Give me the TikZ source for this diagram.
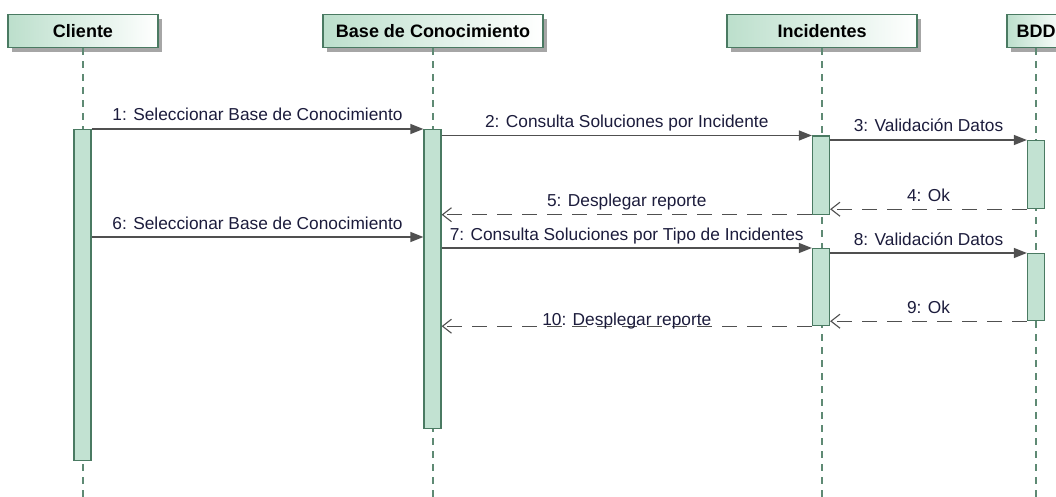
\documentclass[tikz,border=0pt]{standalone}
\usepackage{fontspec}
\setmainfont{Liberation Sans}
\usetikzlibrary{arrows.meta,positioning,shadows}
\definecolor{boxgreen}{HTML}{BCDFCC}
\definecolor{actfill}{HTML}{C2E2D2}
\definecolor{actline}{HTML}{4A7A62}
\definecolor{lifeline}{HTML}{5F8A74}
\definecolor{msgline}{HTML}{505050}
\definecolor{msgtext}{HTML}{1C1C3C}
\tikzset{
	x=1pt, y=-1pt,% one unit is one pixel of the reference, y runs downwards
	head/.style={rectangle, draw=actline, line width=1.2pt, left color=boxgreen, right color=white, minimum height=33pt, anchor=north, font=\fontsize{18}{20}\selectfont\bfseries, drop shadow={shadow xshift=4pt, shadow yshift=-4pt, fill=black!35, opacity=1}},
	act/.style={rectangle, draw=actline, fill=actfill, line width=1.2pt, minimum width=17pt, inner sep=0pt, anchor=north},
	life/.style={draw=lifeline, line width=1.1pt, dash pattern=on 7pt off 6pt},
	call/.style={draw=msgline, line width=1.3pt, -{Triangle[length=13pt,width=10pt]}},
	reply/.style={draw=msgline, line width=1.3pt, dash pattern=on 15pt off 10pt, -{Straight Barb[length=9pt,width=14pt,line width=1.1pt]}},
	lbl/.style={anchor=base, yshift=8pt, text=msgtext, font=\fontsize{17.3}{20}\selectfont, inner sep=0pt}
}
\begin{document}
\begin{tikzpicture}
	\useasboundingbox[fill=white] (0,0) rectangle (1056,497);
	% lifeline heads
	\node[head, minimum width=150pt] (cli) at (83,14) {Cliente};
	\node[head, minimum width=220pt] (base) at (433,14) {Base de Conocimiento};
	\node[head, minimum width=190pt] (inc) at (822,14) {Incidentes};
	\node[head, minimum width=58pt] (bdd) at (1036,14) {BDD};
	\coordinate (bot) at (0,497);
	\coordinate (m6) at (0,237);
	\draw[life] (cli) -- (cli |- bot);
	\draw[life] (base) -- (base |- bot);
	\draw[life] (inc) -- (inc |- bot);
	\draw[life] (bdd) -- (bdd |- bot);
	% activations
	\node[act, minimum height=331pt] (cli1) at (82.5,129) {};
	\node[act, minimum height=299pt] (base1) at (432.5,129) {};
	\node[act, minimum height=78pt] (inc1) at (821,135.5) {};
	\node[act, minimum height=77pt] (inc2) at (821,248) {};
	\node[act, minimum height=68pt] (bdd1) at (1036,140) {};
	\node[act, minimum height=67pt] (bdd2) at (1036,253) {};
	% messages
	\draw[call] (cli1.north east) -- (base1.north west) node[lbl, midway] {1: Seleccionar Base de Conocimiento};
	\draw[call] (base1.east |- inc1.north) -- (inc1.north west) node[lbl, midway] {2: Consulta Soluciones por Incidente};
	\draw[call] (inc1.east |- bdd1.north) -- (bdd1.north west) node[lbl, midway] {3: Validación Datos};
	\draw[reply] (bdd1.south west) -- (inc1.east |- bdd1.south) node[lbl, midway] {4: Ok};
	\draw[reply] (inc1.south west) -- (base1.east |- inc1.south) node[lbl, midway] {5: Desplegar reporte};
	\draw[call] (cli1.east |- m6) -- (base1.west |- m6) node[lbl, midway] {6: Seleccionar Base de Conocimiento};
	\draw[call] (base1.east |- inc2.north) -- (inc2.north west) node[lbl, midway] {7: Consulta Soluciones por Tipo de Incidentes};
	\draw[call] (inc2.east |- bdd2.north) -- (bdd2.north west) node[lbl, midway] {8: Validación Datos};
	\draw[reply] (bdd2.south west) -- (inc2.east |- bdd2.south) node[lbl, midway] {9: Ok};
	\draw[reply] (inc2.south west) -- (base1.east |- inc2.south) node[lbl, midway, yshift=-7pt] {10: Desplegar reporte};
\end{tikzpicture}
\end{document}
